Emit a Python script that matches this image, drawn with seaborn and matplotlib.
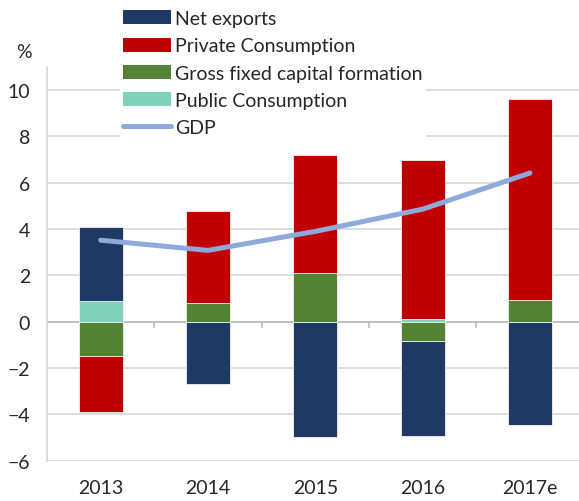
import numpy as np
import pandas as pd
import matplotlib
matplotlib.use('Agg')
import matplotlib.pyplot as plt
import seaborn as sns
from matplotlib.patches import Patch
from matplotlib.lines import Line2D

# --- data ---
years = ['2013', '2014', '2015', '2016', '2017e']
public_cons = [0.9, 0.0, 0.0, 0.1, 0.0]
gfcf = [-1.5, 0.8, 2.1, -0.85, 0.95]
private_cons = [-2.4, 4.0, 5.1, 6.87, 8.65]
net_exports = [3.2, -2.7, -5.0, -4.1, -4.45]
gdp = [3.52, 3.08, 3.9, 4.86, 6.42]

series = [
    ('Public Consumption', public_cons, '#7fd1b9'),
    ('Gross fixed capital formation', gfcf, '#548235'),
    ('Private Consumption', private_cons, '#c00000'),
    ('Net exports', net_exports, '#1f3864'),
]
gdp_color = '#8eaadb'
grid_color = '#d9d9d9'

sns.set_style('white')
plt.rcParams['font.family'] = ['Lato', 'DejaVu Sans']
plt.rcParams['font.size'] = 14

fig = plt.figure(figsize=(5.79, 5.02), dpi=100)
ax = fig.add_axes([0.0812, 0.0805, 0.9188, 0.784])

# stacked bars: positives stack upward, negatives downward
pos_base = np.zeros(len(years))
neg_base = np.zeros(len(years))
for name, vals, col in series:
    vals = np.array(vals, dtype=float)
    bottoms = np.where(vals >= 0, pos_base, neg_base)
    df = pd.DataFrame({'year': years, 'value': vals})
    sns.barplot(data=df, x='year', y='value', order=years, bottom=bottoms,
                color=col, saturation=1, width=0.41, edgecolor='#f2f2f2',
                linewidth=0.6, ax=ax, zorder=3, errorbar=None)
    pos_base = pos_base + np.clip(vals, 0, None)
    neg_base = neg_base + np.clip(vals, None, 0)

gdp_df = pd.DataFrame({'year': years, 'gdp': gdp})
sns.lineplot(data=gdp_df, x='year', y='gdp', sort=False, color=gdp_color,
             linewidth=3.6, ax=ax, zorder=4, solid_capstyle='round')

ax.set_xlim(-0.5, 4.457)
ax.set_ylim(-6, 11)
ax.set_yticks(range(-6, 11, 2))
ax.yaxis.grid(True, color=grid_color, linewidth=1.3, zorder=0)
ax.set_axisbelow(True)
ax.axhline(0, color='#bfbfbf', linewidth=1.3, zorder=2)
ax.vlines([0.5, 1.5, 2.5, 3.5], 0, -0.27, color='#bfbfbf', linewidth=1.3, zorder=2)

for s in ['top', 'right', 'bottom']:
    ax.spines[s].set_visible(False)
ax.spines['left'].set_color(grid_color)
ax.spines['left'].set_linewidth(1.3)
ax.tick_params(axis='y', length=4.3, width=1.3, color=grid_color, pad=8, labelsize=14)
ax.tick_params(axis='x', length=0, pad=13, labelsize=14)
ax.set_xlabel('')
ax.set_ylabel('')

fig.text(24 / 579, 1 - 52 / 502, '%', ha='center', va='center', fontsize=14)

handles = [Patch(facecolor=c, edgecolor='none') for _, _, c in series[::-1]]
labels = [n for n, _, _ in series[::-1]]
handles.append(Line2D([0], [0], color=gdp_color, linewidth=3.6, solid_capstyle='round'))
labels.append('GDP')
leg = fig.legend(handles, labels, loc='upper left', bbox_to_anchor=(110 / 579, 1.003),
                 frameon=True, facecolor='white', edgecolor='none', framealpha=1,
                 fontsize=14, handlelength=2.5, handleheight=0.72,
                 handletextpad=0.2, labelspacing=0.53, borderpad=0.15)

fig.savefig('out.png', dpi=100)
